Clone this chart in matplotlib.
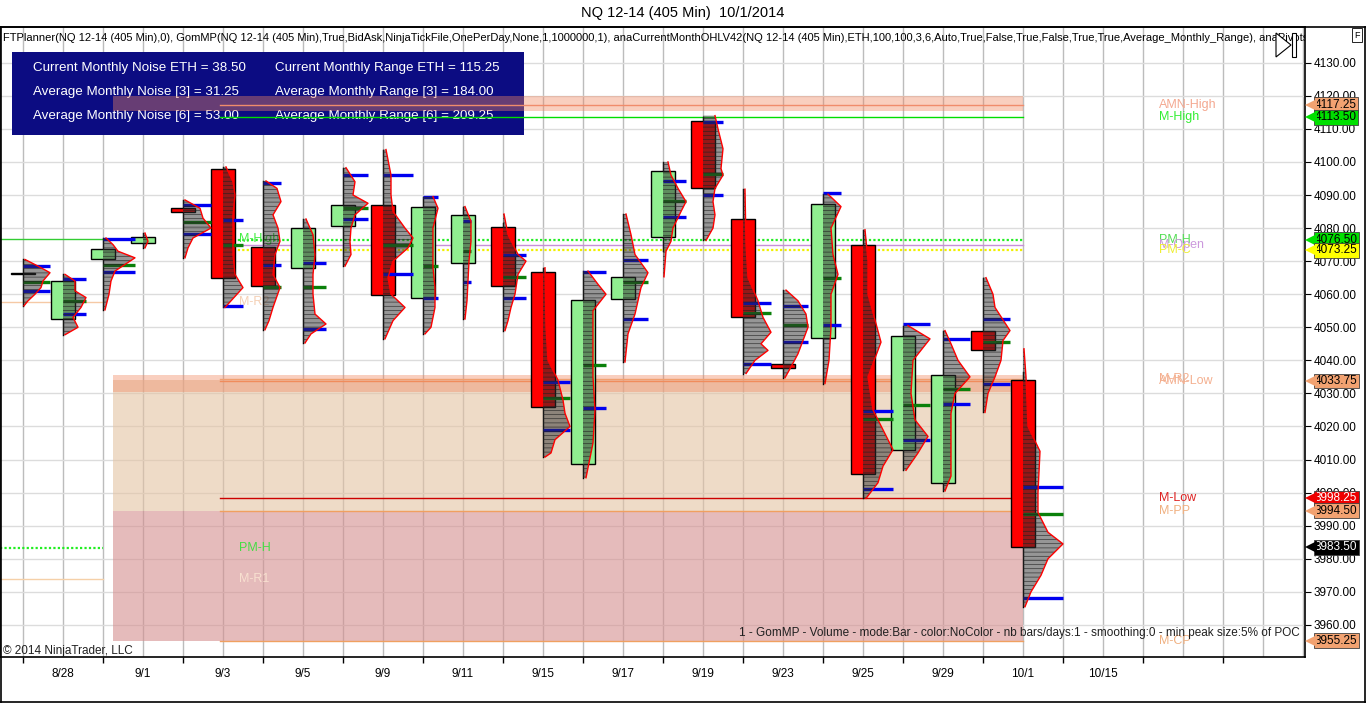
import matplotlib
matplotlib.use('Agg')
import matplotlib.pyplot as plt
from matplotlib.patches import Rectangle, Polygon
from matplotlib.lines import Line2D
from matplotlib.ticker import FixedLocator, FixedFormatter
import numpy as np

plt.rcParams['font.family'] = ['Liberation Sans', 'DejaVu Sans']
plt.rcParams['hatch.linewidth'] = 0.4

# ---- data ----
date_labels = ['8/28', '9/1', '9/3', '9/5', '9/9', '9/11', '9/15', '9/17',
               '9/19', '9/23', '9/25', '9/29', '10/1', '10/15']
label_bars = [1, 3, 5, 7, 9, 11, 13, 15, 17, 19, 21, 23, 25, 27]

opens = [4066.0, 4052.5, 4070.5, 4075.5, 4086.0, 4098.0, 4074.25, 4068.0, 4080.5,
         4087.0, 4059.0, 4069.5, 4080.25, 4066.75, 4008.75, 4058.5, 4077.25, 4112.5,
         4082.75, 4039.0, 4046.75, 4075.0, 4013.0, 4003.0, 4049.0, 4034.0]
highs = [4070.5, 4066.0, 4077.0, 4078.5, 4088.5, 4098.5, 4094.25, 4082.75, 4098.25,
         4103.75, 4089.5, 4086.5, 4081.5, 4068.0, 4067.0, 4084.25, 4100.0, 4113.5,
         4091.75, 4061.25, 4090.25, 4079.5, 4050.5, 4049.0, 4065.0, 4036.5]
lows = [4056.5, 4047.75, 4055.25, 4074.0, 4071.0, 4056.0, 4049.25, 4045.25, 4068.5,
        4046.5, 4048.0, 4052.5, 4049.0, 4010.75, 4004.5, 4039.5, 4073.0, 4076.25,
        4036.0, 4034.75, 4033.0, 3998.25, 4006.75, 4000.5, 4024.25, 3965.5]
closes = [4066.5, 4064.0, 4073.75, 4077.25, 4085.0, 4065.0, 4062.5, 4080.0, 4087.0,
          4059.75, 4086.5, 4084.0, 4062.5, 4026.0, 4058.25, 4065.25, 4097.25, 4092.0,
          4053.0, 4037.75, 4087.25, 4005.5, 4047.5, 4035.5, 4043.0, 3983.5]

# market profile per bar: price levels and relative volume
profile_prices = [
    [4070.5, 4068.5, 4066.5, 4064, 4062, 4060, 4058, 4056.5],
    [4066, 4064, 4061, 4059, 4056, 4053, 4050, 4047.75],
    [4077, 4075, 4073, 4071, 4069, 4067, 4064, 4060, 4055.25],
    [4078.5, 4076, 4074],
    [4088.5, 4086, 4083, 4080, 4077, 4074, 4071],
    [4098.5, 4094, 4090, 4084, 4078, 4072, 4066, 4062, 4058, 4056],
    [4094.25, 4092, 4088, 4084, 4080, 4076, 4072, 4066, 4062, 4056, 4052, 4049.25],
    [4082.75, 4078, 4072, 4066, 4060, 4054, 4051, 4048, 4045.25],
    [4098.25, 4094, 4090, 4087.5, 4084, 4080, 4076, 4072, 4068.5],
    [4103.75, 4096, 4090, 4085, 4080, 4077, 4074, 4070, 4065, 4060, 4056, 4052, 4046.5],
    [4089.5, 4086, 4080, 4074, 4068, 4062, 4056, 4050, 4048],
    [4086.5, 4082, 4076, 4070, 4064, 4058, 4052.5],
    [4084.25, 4078, 4072, 4070, 4066, 4060, 4056, 4052, 4049],
    [4068, 4050, 4040, 4034, 4028, 4024, 4020, 4016, 4012, 4010.75],
    [4067, 4063, 4060, 4055, 4045, 4035, 4025, 4015, 4004.5],
    [4084.25, 4078, 4072, 4066.5, 4062, 4058, 4054, 4048, 4039.5],
    [4100, 4096, 4092, 4088, 4085, 4080, 4076, 4073, 4065.25],
    [4114, 4110, 4104, 4098, 4096, 4092, 4088, 4084, 4080, 4076.25],
    [4091.75, 4075, 4065, 4058, 4053, 4048.5, 4045, 4043, 4040, 4036],
    [4061.25, 4058, 4054, 4050, 4046, 4042, 4038, 4034.75],
    [4090.25, 4086.5, 4080, 4072, 4066, 4060, 4050, 4040, 4033],
    [4079.5, 4070, 4060, 4045.5, 4035, 4025, 4013, 4008, 4003, 3998.25],
    [4050.5, 4046.5, 4040, 4030, 4022, 4017, 4012, 4006.75],
    [4049, 4045, 4040, 4035, 4030, 4024, 4015, 4005, 4000.5],
    [4065, 4060, 4056, 4049, 4046, 4040, 4035, 4030, 4024.25],
    [4043.5, 4035, 4020, 4012.5, 4000, 3994, 3988, 3984.5, 3980, 3975, 3970, 3965.5],
]
profile_vols = [
    [2, 15, 27, 20, 18, 12, 5, 1],
    [2, 12, 12, 23, 18, 10, 15, 2],
    [3, 10, 15, 32, 22, 12, 8, 6, 2],
    [2, 5, 2],
    [2, 17, 20, 28, 10, 5, 2],
    [3, 10, 12, 10, 10, 10, 12, 20, 8, 2],
    [3, 14, 18, 10, 15, 17, 12, 10, 17, 10, 6, 2],
    [3, 10, 12, 10, 10, 12, 23, 8, 2],
    [3, 12, 10, 25, 12, 8, 7, 8, 2],
    [3, 8, 8, 10, 22, 30, 25, 10, 5, 8, 22, 10, 2],
    [10, 15, 10, 10, 10, 12, 12, 8, 2],
    [2, 8, 8, 6, 5, 4, 2],
    [1, 5, 15, 23, 15, 12, 8, 5, 2],
    [2, 3, 5, 15, 20, 22, 27, 12, 8, 2],
    [5, 15, 23, 10, 10, 10, 12, 10, 3],
    [3, 8, 12, 25, 18, 15, 12, 5, 2],
    [5, 8, 15, 23, 18, 10, 8, 3, 1],
    [12, 15, 20, 18, 20, 12, 10, 12, 10, 3],
    [2, 3, 5, 15, 20, 28, 18, 25, 12, 3],
    [3, 15, 23, 25, 20, 15, 8, 2],
    [5, 18, 8, 10, 15, 8, 8, 6, 2],
    [2, 5, 5, 18, 5, 10, 30, 20, 15, 3],
    [5, 27, 10, 8, 12, 25, 15, 3],
    [2, 8, 15, 27, 12, 8, 8, 8, 2],
    [3, 10, 12, 27, 20, 18, 12, 5, 2],
    [1, 3, 5, 17, 15, 15, 25, 40, 25, 18, 8, 2],
]
nan = float('nan')
poc = [4063.75, 4058.0, 4068.75, nan, 4081.75, 4075.0, 4062.25, 4062.25, 4086.0,
       4074.75, 4068.5, 4073.0, 4065.25, 4028.5, 4038.5, 4063.75, 4088.25, 4096.5,
       4054.25, 4050.75, 4065.0, 4022.25, 4026.5, 4031.25, 4045.5, 3993.5]
vah = [4068.5, 4064.5, 4076.75, nan, 4087.0, 4082.5, 4093.5, 4069.5, 4096.0,
       4096.0, 4089.5, 4082.0, 4071.75, 4033.5, 4066.75, 4070.25, 4094.25, 4112.0,
       4057.25, 4056.5, 4090.5, 4024.75, 4051.0, 4046.5, 4052.5, 4001.75]
val = [4061.0, 4054.0, 4066.75, nan, 4078.25, 4056.5, 4068.75, 4049.5, 4082.75,
       4066.0, 4058.75, 4063.75, 4058.75, 4019.0, 4025.5, 4052.5, 4083.25, 4090.0,
       4039.0, 4045.5, 4050.75, 4001.0, 4016.0, 4026.75, 4033.0, 3968.25]

# monthly levels (current) and previous-month levels
level_names = ['AMN-High', 'M-High', 'PM-H', 'M-Open', 'PM-C', 'AMN-Low', 'M-R2',
               'M-Low', 'M-PP', 'M-CP']
level_values = [4117.25, 4113.5, 4076.5, 4075.0, 4073.25, 4033.75, 4034.25,
                3998.25, 3994.5, 3955.25]
prev_names = ['M-High', 'M-R2', 'PM-H', 'M-R1']
prev_values = [4076.75, 4057.75, 3983.25, 3974.0]
amn_high_zone = [4115.25, 4120.0]
amn_low_zone = [4030.5, 4035.5]
upper_pivot_zone = [3994.5, 4034.0]
lower_pivot_zone = [3955.25, 3994.5]

marker_values = [4117.25, 4113.5, 4076.5, 4073.25, 4033.75, 3998.25, 3994.5, 3983.5, 3955.25]

noise_names = ['Current Monthly Noise ETH', 'Average Monthly Noise [3]', 'Average Monthly Noise [6]']
noise_vals = [38.50, 31.25, 53.00]
range_names = ['Current Monthly Range ETH', 'Average Monthly Range [3]', 'Average Monthly Range [6]']
range_vals = [115.25, 184.00, 209.25]

# ---- figure ----
W, H = 1366, 703
fig = plt.figure(figsize=(W / 100, H / 100), dpi=100)
ax = fig.add_axes([0, 46 / H, 1305 / W, 630 / H])
ax.set_xlim(-0.575, 32.05)
ax.set_ylim(3950.3, 4140.8)

# grid
ax.set_axisbelow(True)
yt_vals = np.arange(3960, 4131, 10)
ax.yaxis.set_major_locator(FixedLocator(yt_vals))
ax.yaxis.set_major_formatter(FixedFormatter(['%.2f' % v for v in yt_vals]))
ax.yaxis.tick_right()
ax.tick_params(axis='y', which='major', direction='out', length=4, labelsize=8.5, pad=2)
ax.grid(axis='y', color='#dcdcdc', lw=1)

ax.xaxis.set_major_locator(FixedLocator(np.arange(0, 32, 2)))
ax.xaxis.set_major_formatter(FixedFormatter([''] * 16))
ax.xaxis.set_minor_locator(FixedLocator(label_bars))
ax.xaxis.set_minor_formatter(FixedFormatter(date_labels))
ax.tick_params(axis='x', which='major', direction='out', length=4, width=1)
ax.tick_params(axis='x', which='minor', length=0, labelsize=8.5, pad=8)
for xv in range(0, 33):
    ax.axvline(xv, color='#bcbcbc', lw=1, zorder=0.5)
for sp in ax.spines.values():
    sp.set_color('black')
    sp.set_linewidth(1.2)

# info box
ax.add_patch(Rectangle((12 / 1305, (657 - 135) / 630), 512 / 1305, 83 / 630,
                       transform=ax.transAxes, facecolor='#0c0c82', edgecolor='none', zorder=0.7))
for r in range(3):
    yy = (657 - (68 + 24 * r)) / 630
    ax.text(33 / 1305, yy, '%s = %.2f' % (noise_names[r], noise_vals[r]), transform=ax.transAxes,
            color='white', fontsize=9.6, va='center', zorder=0.8)
    ax.text(275 / 1305, yy, '%s = %.2f' % (range_names[r], range_vals[r]), transform=ax.transAxes,
            color='white', fontsize=9.6, va='center', zorder=0.8)

# zones
zx0, zx1 = 2.25, 25
band_col = (240 / 255, 135 / 255, 97 / 255)
ax.add_patch(Rectangle((zx0, upper_pivot_zone[0]), zx1 - zx0, upper_pivot_zone[1] - upper_pivot_zone[0],
                       facecolor=(228 / 255, 195 / 255, 163 / 255), alpha=0.6, lw=0, zorder=0.85))
ax.add_patch(Rectangle((zx0, lower_pivot_zone[0]), zx1 - zx0, lower_pivot_zone[1] - lower_pivot_zone[0],
                       facecolor=(213 / 255, 143 / 255, 143 / 255), alpha=0.6, lw=0, zorder=0.85))
for z in (amn_high_zone, amn_low_zone):
    ax.add_patch(Rectangle((zx0, z[0]), zx1 - zx0, z[1] - z[0], facecolor=band_col,
                           alpha=0.4, lw=0, zorder=0.9))

# level lines
lstyles = [('#f08c6c', '-', 1.0), ('#00dd00', '-', 1.0), ('#22ee22', (0, (1, 1)), 1.6),
           ('#c890d8', '-', 1.0), ('#f0f000', (0, (1, 1)), 1.6), ('#f08c5c', '-', 1.0),
           ('#f0a070', '-', 1.0), ('#cc0000', '-', 1.0), ('#f0a060', '-', 1.0), ('#f0a060', '-', 1.0)]
lcolors = ['#f4a890', '#33ee33', '#55dd55', '#cc99dd', '#eeee33', '#f4b090', '#f4b090',
           '#dd2222', '#f0b080', '#f0b080']
for name, v, st, lc in zip(level_names, level_values, lstyles, lcolors):
    ax.plot([4.93, 25], [v, v], color=st[0], ls=st[1], lw=st[2], zorder=1.0)
    ax.text(28.4, v, name, color=lc, fontsize=9, va='center', ha='left', zorder=1.0)

pstyles = [('#33cc33', '-', 1.0), ('#f5c9a5', '-', 1.0), ('#22ee22', (0, (1, 1)), 1.6),
           ('#f5d0a8', '-', 1.0)]
pcolors = ['#44ee44', '#f5d0b5', '#44dd44', '#f8e0d0']
for name, v, st, lc in zip(prev_names, prev_values, pstyles, pcolors):
    ax.plot([-0.575, 2], [v, v], color=st[0], ls=st[1], lw=st[2], zorder=1.0)
    ax.text(5.4, v, name, color=lc, fontsize=9, va='center', ha='left', zorder=1.5)

# candles
n = len(opens)
for i in range(n):
    o, h, l, c = opens[i], highs[i], lows[i], closes[i]
    ax.plot([i, i], [l, h], color='black', lw=1, zorder=2)
    col = '#90ee90' if c >= o else '#ff0000'
    ax.add_patch(Rectangle((i - 0.3, min(o, c)), 0.6, max(abs(c - o), 0.4),
                           facecolor=col, edgecolor='black', lw=1, zorder=2.1))

# profiles
for i in range(n):
    pp = np.array(profile_prices[i])
    vv = np.array(profile_vols[i]) / 40.0
    wmax = vv.max()
    for lv, lc in ((vah[i], '#0000f0'), (val[i], '#0000f0'), (poc[i], '#0a800a')):
        if not np.isnan(lv):
            ax.plot([i, i + wmax], [lv, lv], color=lc, lw=2.4, solid_capstyle='butt', zorder=2.6)
    ax.fill_betweenx(pp, i, i + vv, facecolor=(0.18, 0.18, 0.18, 0.5), edgecolor='#202020',
                     linewidth=0, hatch='----', zorder=3)
    ax.plot(i + vv, pp, color='#ff0000', lw=1, zorder=3.1)

# price markers on right axis
mcolors = ['#f2a271', '#00e000', '#00e000', '#ffff00', '#f2a271', '#ee0000', '#f2a271',
           '#000000', '#f2a271']
tcolors = ['black', 'black', 'black', 'black', 'black', 'white', 'black', 'white', 'black']
yt = ax.get_yaxis_transform()
for v, mc, tc in zip(marker_values, mcolors, tcolors):
    ax.text(1 + 10 / 1305, v, '%.2f' % v, transform=yt, fontsize=8.5, color=tc, va='center',
            ha='left', clip_on=False, zorder=10,
            bbox=dict(boxstyle='square,pad=0.12', facecolor=mc, edgecolor='#404040', lw=0.6))
    ax.plot([1 + 6 / 1305], [v], marker='<', markersize=8, color=mc, transform=yt,
            clip_on=False, zorder=10, markeredgewidth=0)

# text overlays
ax.text(3 / 1305, (657 - 38) / 630,
        'FTPlanner(NQ 12-14 (405 Min),0), GomMP(NQ 12-14 (405 Min),True,BidAsk,NinjaTickFile,'
        'OnePerDay,None,1,1000000,1), anaCurrentMonthOHLV42(NQ 12-14 (405 Min),ETH,100,100,3,6,'
        'Auto,True,False,True,False,True,True,Average_Monthly_Range), anaPivots',
        transform=ax.transAxes, fontsize=8, va='center', ha='left', clip_on=True, zorder=5)
ax.text(1300 / 1305, (657 - 633) / 630,
        '1 - GomMP - Volume - mode:Bar - color:NoColor - nb bars/days:1 - smoothing:0 - min peak size:5% of POC',
        transform=ax.transAxes, fontsize=8.5, va='center', ha='right', color='#202020', zorder=5)
ax.text(3 / 1305, (657 - 651) / 630, '\u00a9 2014 NinjaTrader, LLC', transform=ax.transAxes,
        fontsize=8.5, va='center', ha='left', color='#202020', zorder=5)

# play/end icon
ax.add_patch(Polygon([(1276 / 1305, (657 - 33) / 630), (1276 / 1305, (657 - 57) / 630),
                      (1291 / 1305, (657 - 45) / 630)], closed=True, transform=ax.transAxes,
                     facecolor='white', edgecolor='black', lw=0.8, zorder=6))
ax.add_patch(Rectangle((1292 / 1305, (657 - 57) / 630), 3.5 / 1305, 24 / 630, transform=ax.transAxes,
                       facecolor='white', edgecolor='black', lw=0.8, zorder=6))

# title and frame
fig.text(683 / W, 1 - 13 / H, 'NQ 12-14 (405 Min)  10/1/2014', ha='center', va='center', fontsize=10.5)
fig.text(1357 / W, 1 - 35 / H, 'F', ha='center', va='center', fontsize=6.5,
         bbox=dict(boxstyle='square,pad=0.25', facecolor='white', edgecolor='black', lw=0.6))
for xs, ys in (([0, 1], [1 - 27 / H] * 2), ([1 - 1 / W] * 2, [1 - 27 / H, 1 / H]),
               ([0, 1], [1.5 / H] * 2), ([0.5 / W] * 2, [1 - 27 / H, 1 / H])):
    fig.add_artist(Line2D(xs, ys, color='black', lw=1.2))

fig.savefig('out.png', dpi=100)
